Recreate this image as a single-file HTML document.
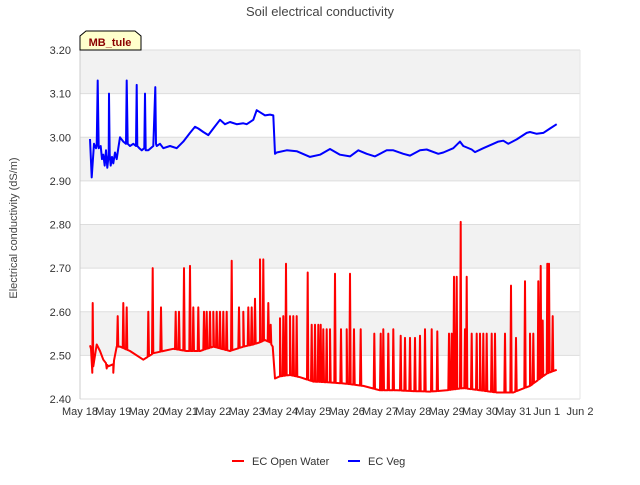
<!DOCTYPE html>
<html><head><meta charset="utf-8"><style>
body{margin:0;background:#fff;}
svg text{font-family:"Liberation Sans","DejaVu Sans",sans-serif;}
</style></head><body>
<svg id="c" width="640" height="480" xmlns="http://www.w3.org/2000/svg">
<text x="320" y="16" text-anchor="middle" font-size="13" fill="#444">Soil electrical conductivity</text>
<text transform="translate(17,228) rotate(-90)" text-anchor="middle" font-size="11" fill="#444">Electrical conductivity (dS/m)</text>
<g id="bands"></g><g id="grid"></g><g id="ticks"></g><g id="series"></g>
<g>
<path d="M80,50 L80,36 L86,31 L135,31 L141,36 L141,50 Z" fill="#ffffcc" stroke="#000" stroke-width="1"/>
<text x="110" y="46" text-anchor="middle" font-size="11" font-weight="bold" fill="#8b0000">MB_tule</text>
</g>
<g>
<g><line x1="232" y1="461" x2="244" y2="461" stroke="#ff0000" stroke-width="2"/><text x="252" y="465" font-size="11" fill="#333">EC Open Water</text></g>
<g><line x1="348" y1="461" x2="360" y2="461" stroke="#0000ff" stroke-width="2"/><text x="368" y="465" font-size="11" fill="#333">EC Veg</text></g>
</g>
</svg>
<script>
const xTickLabels=["May 18","May 19","May 20","May 21","May 22","May 23","May 24","May 25","May 26","May 27","May 28","May 29","May 30","May 31","Jun 1","Jun 2"];
const yTicks=[2.40,2.50,2.60,2.70,2.80,2.90,3.00,3.10,3.20];
const vegT=[0.30,0.35,0.42,0.48,0.50,0.53,0.56,0.62,0.66,0.70,0.74,0.78,0.82,0.86,0.87,0.89,0.92,0.96,1.00,1.05,1.10,1.15,1.20,1.30,1.38,1.40,1.43,1.50,1.60,1.68,1.70,1.72,1.78,1.85,1.93,1.95,1.97,2.05,2.20,2.26,2.28,2.30,2.40,2.50,2.70,2.90,3.10,3.30,3.45,3.55,3.70,3.85,4.00,4.20,4.35,4.50,4.70,4.90,5.00,5.20,5.30,5.45,5.55,5.70,5.80,5.85,5.90,6.20,6.50,6.90,7.20,7.50,7.80,8.10,8.35,8.60,8.85,9.20,9.40,9.70,9.90,10.20,10.40,10.75,10.90,11.20,11.40,11.50,11.75,11.85,12.10,12.40,12.55,12.70,12.85,13.10,13.40,13.50,13.70,13.90,14.10,14.30];
const vegV=[2.996,2.908,2.985,2.975,2.98,3.13,2.975,2.98,2.95,2.96,2.935,2.97,2.93,2.96,3.10,2.96,2.935,2.955,2.94,2.965,2.95,2.975,3.00,2.99,2.985,3.13,2.985,2.98,2.985,2.98,3.12,2.98,2.975,2.97,2.975,3.10,2.97,2.97,2.98,3.115,2.985,2.98,2.985,2.975,2.98,2.975,2.99,3.01,3.024,3.02,3.012,3.005,3.02,3.04,3.03,3.035,3.03,3.032,3.03,3.04,3.062,3.055,3.05,3.052,3.05,2.962,2.965,2.97,2.968,2.955,2.96,2.973,2.96,2.956,2.97,2.962,2.956,2.97,2.97,2.962,2.958,2.97,2.972,2.962,2.965,2.975,2.99,2.98,2.972,2.966,2.975,2.985,2.99,2.992,2.985,2.995,3.01,3.012,3.008,3.01,3.02,3.03];
const owBaseT=[0.30,0.33,0.37,0.50,0.60,0.70,0.85,1.00,1.10,1.20,1.50,1.90,2.20,2.50,2.80,3.20,3.60,4.00,4.50,4.90,5.20,5.40,5.55,5.70,5.78,5.85,6.00,6.30,6.60,7.00,7.50,8.00,8.50,9.00,9.50,10.00,10.50,11.00,11.50,12.00,12.50,13.00,13.50,14.00,14.30];
const owBaseV=[2.523,2.515,2.46,2.525,2.51,2.49,2.475,2.48,2.52,2.52,2.51,2.49,2.505,2.51,2.515,2.51,2.51,2.52,2.51,2.52,2.525,2.53,2.535,2.53,2.52,2.447,2.452,2.455,2.45,2.44,2.438,2.435,2.43,2.42,2.42,2.418,2.417,2.42,2.425,2.42,2.415,2.415,2.43,2.458,2.467];
const owSpikeT=[0.38,0.80,1.00,1.13,1.30,1.40,2.05,2.18,2.43,2.87,2.97,3.12,3.30,3.40,3.55,3.72,3.80,3.90,4.00,4.10,4.20,4.30,4.40,4.55,4.77,4.90,5.05,5.15,5.25,5.40,5.50,5.65,5.72,6.00,6.10,6.18,6.30,6.40,6.50,6.83,6.95,7.05,7.15,7.22,7.30,7.40,7.50,7.65,7.83,8.00,8.10,8.22,8.42,8.83,9.02,9.10,9.25,9.40,9.62,9.75,9.90,10.05,10.20,10.35,10.55,10.72,11.07,11.15,11.22,11.30,11.42,11.55,11.60,11.75,11.90,12.00,12.10,12.20,12.35,12.45,12.75,12.93,13.08,13.35,13.50,13.60,13.75,13.82,13.88,14.02,14.07,14.18];
const owSpikeV=[2.62,2.47,2.46,2.59,2.62,2.61,2.60,2.70,2.61,2.60,2.60,2.70,2.705,2.61,2.61,2.60,2.60,2.60,2.60,2.60,2.60,2.60,2.60,2.717,2.61,2.60,2.61,2.61,2.63,2.72,2.72,2.62,2.57,2.585,2.59,2.71,2.59,2.59,2.59,2.69,2.57,2.57,2.57,2.57,2.56,2.56,2.56,2.687,2.56,2.56,2.687,2.56,2.56,2.55,2.55,2.56,2.55,2.56,2.545,2.54,2.54,2.54,2.545,2.56,2.56,2.555,2.55,2.55,2.68,2.68,2.806,2.56,2.68,2.55,2.55,2.55,2.55,2.55,2.55,2.55,2.55,2.66,2.54,2.67,2.55,2.55,2.67,2.705,2.58,2.71,2.71,2.59];

const L=80,R=580,T=50,B=399,tMin=0,tMax=15,vMin=2.40,vMax=3.20;
const X=t=>L+(t-tMin)/(tMax-tMin)*(R-L);
const Y=v=>B-(v-vMin)/(vMax-vMin)*(B-T);
const NS="http://www.w3.org/2000/svg";
function mk(tag,attrs,parent){const e=document.createElementNS(NS,tag);for(const k in attrs)e.setAttribute(k,attrs[k]);parent.appendChild(e);return e;}
const bands=document.getElementById('bands'),grid=document.getElementById('grid'),ticks=document.getElementById('ticks'),series=document.getElementById('series');
for(let i=0;i<yTicks.length-1;i++){
  if(i%2===1){const r=mk('rect',{x:L,y:Y(yTicks[i+1]),width:R-L,height:Y(yTicks[i])-Y(yTicks[i+1]),fill:'#f2f2f2'},bands);
  
  }
}
yTicks.forEach(v=>{
  const g=mk('line',{x1:L,x2:R,y1:Y(v),y2:Y(v),stroke:'#dddddd','stroke-width':1},grid);
  
  
  const t=mk('text',{x:L-9,y:Y(v)+4,'text-anchor':'end','font-size':11,fill:'#333'},ticks);
  t.textContent=v.toFixed(2);
  
  
});
const ax=mk('line',{x1:L,x2:L,y1:T,y2:B,stroke:'#cccccc'},grid);


const rb=mk('line',{x1:R,x2:R,y1:T,y2:B,stroke:'#e6e6e6'},grid);


xTickLabels.forEach((s,i)=>{
  const t=mk('text',{x:X(i),y:B+16,'text-anchor':'middle','font-size':11,fill:'#333'},ticks);
  t.textContent=s;
  
  
});
function interp(t){for(let i=0;i<owBaseT.length-1;i++){if(t>=owBaseT[i]&&t<=owBaseT[i+1]){const f=(t-owBaseT[i])/(owBaseT[i+1]-owBaseT[i]);return owBaseV[i]+f*(owBaseV[i+1]-owBaseV[i]);}}return owBaseV[owBaseV.length-1];}
let pts=owBaseT.map((t,i)=>[t,owBaseV[i]]);
owSpikeT.forEach((t,i)=>{pts.push([t-0.02,interp(t-0.02)],[t,owSpikeV[i]],[t+0.02,interp(t+0.02)]);});
pts.sort((a,b)=>a[0]-b[0]);
const owLine=mk('path',{d:'M'+pts.map(p=>X(p[0]).toFixed(1)+','+Y(p[1]).toFixed(1)).join('L'),fill:'none',stroke:'#ff0000','stroke-width':2,'stroke-linejoin':'round'},series);


const vegLine=mk('path',{d:'M'+vegT.map((t,i)=>X(t).toFixed(1)+','+Y(vegV[i]).toFixed(1)).join('L'),fill:'none',stroke:'#0000ff','stroke-width':2,'stroke-linejoin':'round'},series);


</script>
</body></html>
